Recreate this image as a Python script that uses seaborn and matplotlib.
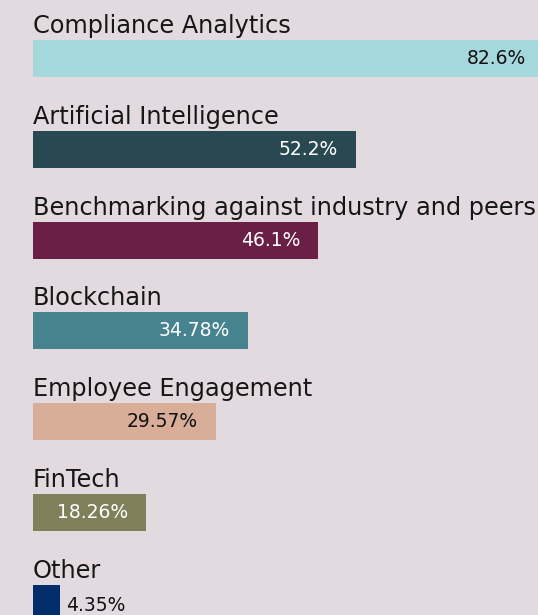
import numpy as np
import pandas as pd
import matplotlib

matplotlib.use('Agg')

import matplotlib.pyplot as plt
import seaborn as sns

sns.set_style("white")
plt.rcParams['font.family'] = ['DejaVu Sans']

categories = ["Compliance Analytics", "Artificial Intelligence",
              "Benchmarking against industry and peers", "Blockchain",
              "Employee Engagement", "FinTech", "Other"]
values = [82.6, 52.2, 46.1, 34.78, 29.57, 18.26, 4.35]
value_labels = ["82.6%", "52.2%", "46.1%", "34.78%", "29.57%", "18.26%", "4.35%"]
colors = ["#a5d8dd", "#284951", "#6a1f46", "#47838e", "#d8ae99", "#7f7f5a", "#022d6b"]
label_colors = ["#111111", "white", "white", "white", "#111111", "white", "#111111"]

bg = "#e3dadf"
df = pd.DataFrame({'Category': categories, 'Value': values})

fig = plt.figure(figsize=(5.38, 6.15), dpi=100)
fig.patch.set_facecolor(bg)
ax = fig.add_axes([33 / 538, 0, 505 / 538, 1])
ax.set_facecolor(bg)

sns.barplot(data=df, x='Value', y='Category', hue='Category',
            palette=dict(zip(categories, colors)), orient='h',
            width=0.407, legend=False, saturation=1, linewidth=0,
            edgecolor='none', ax=ax)

ax.set_xlim(0, 505 / 6.19)
ax.set_ylim(6.127, -0.644)
ax.axis('off')

for i, (cat, v, lab, lc) in enumerate(zip(categories, values, value_labels, label_colors)):
    # category name above the bar
    ax.annotate(cat, xy=(0, i - 0.2035), xytext=(0, 7), textcoords='offset pixels',
                ha='left', va='baseline', fontsize=17.3, color='#161616',
                annotation_clip=False)
    if v > 10:
        ax.annotate(lab, xy=(v, i), xytext=(-18, 0), textcoords='offset pixels',
                    ha='right', va='center', fontsize=13.5, color=lc,
                    annotation_clip=False)
    else:
        ax.annotate(lab, xy=(v, i), xytext=(6, -2), textcoords='offset pixels',
                    ha='left', va='center', fontsize=13.5, color=lc,
                    annotation_clip=False)

plt.savefig("out.png", dpi=100, facecolor=bg)
